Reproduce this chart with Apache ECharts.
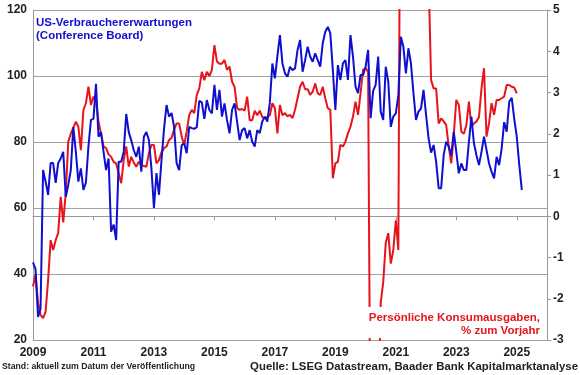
<!DOCTYPE html>
<html>
<head>
<meta charset="utf-8">
<script src="https://cdn.jsdelivr.net/npm/echarts@6/dist/echarts.min.js"></script>
<style>
  html, body { margin: 0; padding: 0; background: #fff; }
  #chart { width: 580px; height: 375px; }
</style>
</head>
<body>
<div id="chart"></div>
<script>
// Monatswerte ab Jan 2009
const startYear = 2009;

// Conference Board Erwartungsindex (linke Achse), Jan 2009 - Mar 2025
const expectations = [
  43.5, 41.5, 27, 29.5, 71.5, 68, 64, 73.6, 73.6, 67.6, 73.6, 75,
  77, 63.4, 67, 71.5, 84.5, 77, 68, 72, 65.5, 67.7, 78.6, 86.7,
  87, 97.6, 81.6, 83, 77, 71.5, 75, 52.8, 55, 50.3, 74, 74,
  77, 88.5, 83, 80.5, 77.5, 75.5, 78.6, 71, 81.6, 83, 80.6, 72,
  60, 70.6, 64, 74.5, 84, 91.2, 87.7, 88.8, 84.6, 73.6, 71.5, 79,
  79.6, 76.6, 84.6, 84.2, 84, 84.5, 92.5, 92, 87, 92.7, 89.7, 88.7,
  97.3, 89.7, 95.8, 87.7, 91.7, 86.7, 82.6, 89.7, 91.7, 86.2, 80.6, 83.6,
  84.2, 81.1, 83.6, 80.1, 78.6, 83.6, 82.7, 86.2, 87.7, 86.2, 92, 103.8,
  99.3, 106, 112.4, 103.8, 100.8, 99.8, 102.8, 101.8, 102.3, 107.9, 110.9, 101.3,
  104.8, 108.9, 105.9, 104.3, 106.9, 104.8, 102.8, 109.9, 113.4, 114.9, 112.9, 101.8,
  89.7, 103.3, 98.8, 103.8, 104.8, 98.8, 112.4, 105.9, 96.8, 94.8, 100.3, 100.3,
  102.8, 107.9, 87.2, 95.5, 97.3, 105.9, 89.2, 86.7, 102.8, 98.3, 84.6, 87.7,
  88.7, 94.2, 111.9, 108.9, 100.8, 108.4, 103.8, 94.8, 86.7, 89.2, 90.2, 95.8,
  88.2, 81.1, 76.8, 79.1, 74, 66, 66, 76.1, 80.1, 78.6, 76, 83.1,
  77, 70.5, 73.5, 71.5, 71.5, 80, 87.7, 79.6, 76, 73, 77, 81.6,
  77.6, 73.5, 71, 69, 75.5, 73, 78, 86, 83.1, 92.2, 93.4, 87,
  81.6, 73, 65.5
];

// Persönliche Konsumausgaben, % yoy (rechte Achse), Jan 2009 - Jan 2025
const consumption = [
  -1.7, -1.42, -2.1, -2.39, -2.47, -2.31, -1.55, -0.58, -0.82, -0.58, -0.41, 0.47,
  -0.15, 0.56, 1.81, 2.0, 2.15, 2.29, 2.17, 1.6, 2.57, 2.74, 3.14, 2.7,
  2.9, 2.78, 2.3, 2.01, 1.69, 1.65, 1.5, 1.44, 1.32, 1.28, 1.04, 0.8,
  1.36, 1.69, 1.2, 1.44, 1.3, 1.2, 1.32, 1.24, 1.22, 1.2, 1.53, 1.73,
  1.73, 1.28, 1.36, 1.55, 1.65, 1.69, 1.85, 1.9, 2.1, 2.25, 2.25, 1.93,
  1.73, 2.05, 2.45, 2.58, 2.5, 2.94, 3.1, 3.5, 3.3, 3.5, 3.4, 3.55,
  4.15, 3.75, 3.7, 3.7, 3.79, 3.55, 3.63, 3.26, 3.14, 2.62, 2.58, 2.6,
  2.56, 2.9, 2.33, 2.33, 2.56, 2.45, 2.56, 2.41, 2.37, 2.41, 2.45, 2.74,
  2.62, 2.01, 2.7, 2.45, 2.5, 2.42, 2.46, 2.38, 2.58, 2.86, 3.14, 3.26,
  3.08, 3.08, 2.94, 3.02, 3.22, 2.98, 2.94, 3.14, 2.86, 2.62, 2.58, 0.92,
  1.28, 1.32, 1.73, 1.69, 1.81, 2.01, 2.17, 2.42, 2.78, 2.46, 2.98, 3.55,
  3.59, 3.5, -6.5, -16, -10, -5, -2.1, -1.6, -0.65, -0.41, -1.15, -0.82,
  -0.1, -0.82, 12.4, 26, 16, 12, 8, 7, 7, 7.5, 6.5, 6,
  6, 5.8, 3.3, 3.1, 3.1, 2.25, 2.37, 2.3, 2.21, 1.69, 1.28, 1.97,
  2.82, 2.7, 2.05, 2.0, 2.21, 2.78, 2.17, 2.25, 2.3, 2.4, 3.1, 3.59,
  1.93, 2.25, 2.74, 2.46, 2.82, 2.82, 2.86, 2.9, 3.18, 3.18, 3.14, 3.12,
  2.98
];

// Achsen
const xRange = [2009, 2026];
const leftTicks = [20, 120, 20];   // min, max, interval
const rightTicks = [-3, 5, 1];

const blue = '#0f0fd0';
const red = '#e8141c';
const font = 'Liberation Sans, Arial, sans-serif';

function toPoints(arr) {
  return arr.map((v, i) => [startYear + i / 12, v]);
}

const chart = echarts.init(document.getElementById('chart'), null, { renderer: 'canvas' });

chart.setOption({
  animation: false,
  backgroundColor: '#fff',
  grid: { left: 33, right: 33, top: 10, bottom: 35, containLabel: false },
  title: [
    {
      text: 'US-Verbrauchererwartungen\n(Conference Board)',
      left: 36, top: 16, padding: 0,
      textStyle: { color: blue, fontSize: 11.5, fontWeight: 'bold', fontFamily: font, lineHeight: 13 }
    },
    {
      text: 'Stand: aktuell zum Datum der Veröffentlichung',
      left: 2, top: 362, padding: 0,
      textStyle: { color: '#222', fontSize: 8.7, fontWeight: 'bold', fontFamily: font }
    },
    {
      text: 'Quelle: LSEG Datastream, Baader Bank Kapitalmarktanalyse',
      right: 2, top: 361, padding: 0,
      textStyle: { color: '#222', fontSize: 11.4, fontWeight: 'bold', fontFamily: font }
    }
  ],
  // Beschriftung der roten Linie, weiss hinterlegt (verdeckt den Einbruch 2020)
  graphic: [
    {
      type: 'rect',
      z: 100,
      shape: { x: 368, y: 307, width: 175, height: 31 },
      style: { fill: '#fff' }
    },
    {
      type: 'text',
      z: 101,
      style: {
        x: 540, y: 311,
        text: 'Persönliche Konsumausgaben,\n% zum Vorjahr',
        align: 'right', verticalAlign: 'top',
        fill: red, font: 'bold 11.5px ' + font, lineHeight: 13
      }
    }
  ],
  xAxis: {
    type: 'value',
    min: xRange[0], max: xRange[1], interval: 2,
    axisLine: { show: true, lineStyle: { color: '#999', width: 1 } },
    axisTick: { show: true, length: 4, lineStyle: { color: '#999' } },
    splitLine: { show: false },
    axisLabel: {
      color: '#222', fontSize: 12, fontWeight: 'bold', fontFamily: font, margin: 7,
      showMaxLabel: false,
      formatter: v => String(Math.round(v))
    }
  },
  yAxis: [
    {
      type: 'value',
      min: leftTicks[0], max: leftTicks[1], interval: leftTicks[2],
      axisLine: { show: true, lineStyle: { color: '#999' } },
      axisTick: { show: false },
      splitLine: { show: true, lineStyle: { color: '#a0a0a0', width: 1 } },
      axisLabel: { color: '#222', fontSize: 12, fontWeight: 'bold', fontFamily: font, margin: 6 }
    },
    {
      type: 'value',
      position: 'right',
      min: rightTicks[0], max: rightTicks[1], interval: rightTicks[2],
      axisLine: { show: true, lineStyle: { color: '#999' } },
      axisTick: { show: true, length: 4, lineStyle: { color: '#999' } },
      splitLine: { show: false },
      axisLabel: { color: '#222', fontSize: 12, fontWeight: 'bold', fontFamily: font, margin: 6 }
    }
  ],
  series: [
    {
      name: 'Konsumausgaben',
      type: 'line',
      yAxisIndex: 1,
      data: toPoints(consumption),
      showSymbol: false,
      clip: true,
      lineStyle: { color: red, width: 2 },
      z: 2
    },
    {
      name: 'Erwartungen',
      type: 'line',
      yAxisIndex: 0,
      data: toPoints(expectations),
      showSymbol: false,
      clip: true,
      lineStyle: { color: blue, width: 2 },
      z: 3
    }
  ]
});
</script>
</body>
</html>
